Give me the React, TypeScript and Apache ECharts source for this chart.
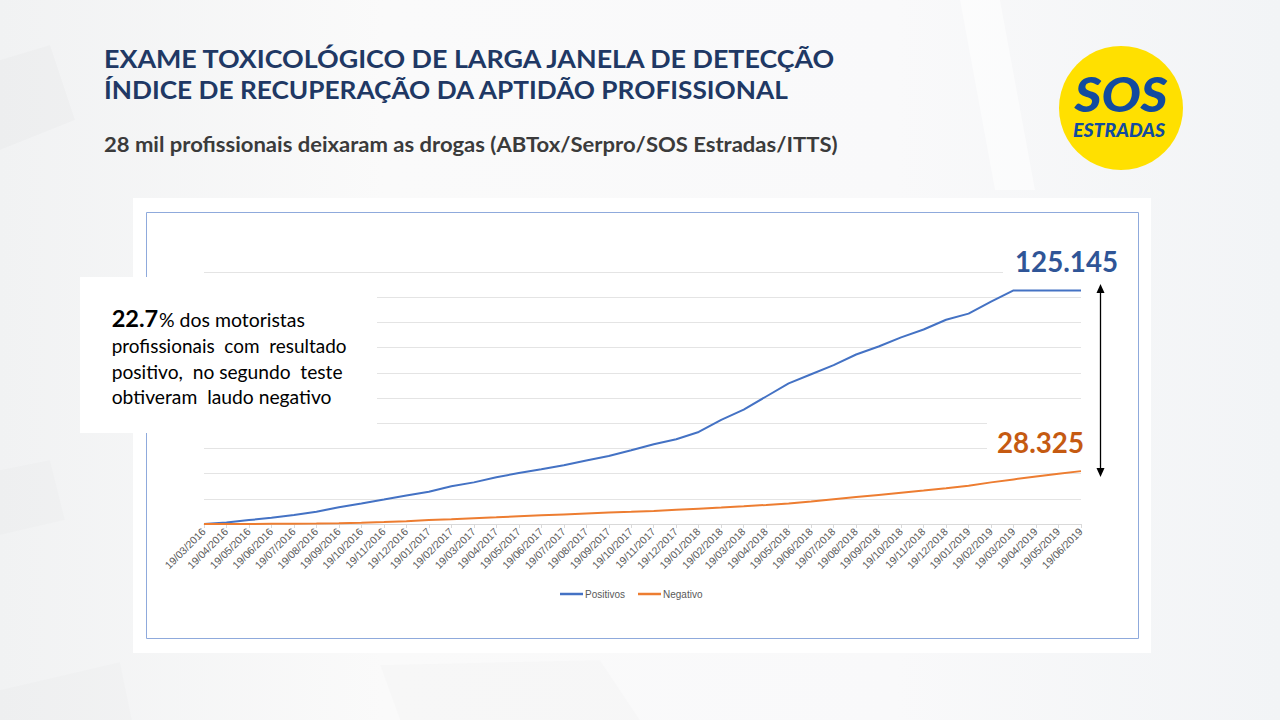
import React, { useEffect, useRef } from "react";
import * as echarts from "echarts";

// ---------- data ----------
const dates = [
  "19/03/2016", "19/04/2016", "19/05/2016", "19/06/2016", "19/07/2016", "19/08/2016",
  "19/09/2016", "19/10/2016", "19/11/2016", "19/12/2016", "19/01/2017", "19/02/2017",
  "19/03/2017", "19/04/2017", "19/05/2017", "19/06/2017", "19/07/2017", "19/08/2017",
  "19/09/2017", "19/10/2017", "19/11/2017", "19/12/2017", "19/01/2018", "19/02/2018",
  "19/03/2018", "19/04/2018", "19/05/2018", "19/06/2018", "19/07/2018", "19/08/2018",
  "19/09/2018", "19/10/2018", "19/11/2018", "19/12/2018", "19/01/2019", "19/02/2019",
  "19/03/2019", "19/04/2019", "19/05/2019", "19/06/2019",
];
const positivos = [
  0, 750, 2100, 3300, 4800, 6600, 9000, 11000, 13100, 15300, 17300, 20200, 22300, 25000,
  27300, 29300, 31500, 34000, 36400, 39500, 42700, 45400, 49300, 55800, 61300, 68300,
  75300, 80200, 85100, 90800, 95100, 100000, 104200, 109400, 112700, 119100, 125145,
  125145, 125145, 125145,
];
const negativos = [
  0, 0, 50, 100, 150, 250, 380, 700, 1050, 1450, 2150, 2550, 3050, 3550, 4100, 4650,
  5150, 5650, 6100, 6500, 7000, 7600, 8200, 8800, 9450, 10200, 11000, 12000, 13200,
  14400, 15600, 16800, 17900, 19100, 20500, 22300, 23900, 25400, 26900, 28325,
];
const seriesNames = ["Positivos", "Negativo"];
const yMax = 135000;
const yStep = 13500;
const titleLines = [
  "EXAME TOXICOLÓGICO DE LARGA JANELA DE DETECÇÃO",
  "ÍNDICE DE RECUPERAÇÃO DA APTIDÃO PROFISSIONAL",
];
const subtitle = "28 mil profissionais deixaram as drogas (ABTox/Serpro/SOS Estradas/ITTS)";
const notePct = "22.7";
const noteLines = [
  "% dos motoristas",
  "profissionais  com  resultado",
  "positivo,  no segundo  teste",
  "obtiveram  laudo negativo",
];
const finalPos = "125.145";
const finalNeg = "28.325";
const logoTop = "SOS";
const logoBottom = "ESTRADAS";

// ---------- helpers ----------
const FONT = "Lato";
let measureCtx: CanvasRenderingContext2D | null = null;
function measure(text: string, size: number, weight: string, family: string, italic = false) {
  if (!measureCtx) measureCtx = document.createElement("canvas").getContext("2d");
  if (!measureCtx) return text.length * size * 0.5;
  measureCtx.font = `${italic ? "italic " : ""}${weight} ${size}px "${family}"`;
  return measureCtx.measureText(text).width;
}
const CENTRAL = 0.387; // central baseline offset (em) for Lato

function fitText(o: {
  text: string; x: number; baseline: number; width: number; size: number;
  weight?: string; fill: string; align?: string; italic?: boolean; z?: number; family?: string;
}) {
  const weight = o.weight || "normal";
  const family = o.family || FONT;
  const w = measure(o.text, o.size, weight, family, !!o.italic);
  return {
    type: "text",
    x: o.x,
    y: o.baseline - CENTRAL * o.size,
    scaleX: o.width / w,
    z: o.z ?? 30,
    style: {
      text: o.text,
      fontSize: o.size,
      fontWeight: weight,
      fontFamily: family,
      fontStyle: o.italic ? "italic" : "normal",
      fill: o.fill,
      textAlign: o.align || "left",
      verticalAlign: "middle",
    },
  };
}

export default function App() {
  const ref = useRef<HTMLDivElement>(null);

  useEffect(() => {
    if (!ref.current) return;
    const chart = echarts.init(ref.current, null, { renderer: "svg" });

    const graphics: any[] = [
      // slide background
      {
        type: "rect", z: 0, shape: { x: 0, y: 0, width: 1280, height: 720 },
        style: {
          fill: new echarts.graphic.LinearGradient(0, 0, 1, 0, [
            { offset: 0, color: "#f1f2f3" },
            { offset: 0.3, color: "#fafafa" },
            { offset: 0.7, color: "#f9f9fa" },
            { offset: 1, color: "#f2f4f6" },
          ]),
        },
      },
      { type: "polygon", z: 0, shape: { points: [[0, 60], [50, 45], [75, 120], [0, 150]] }, style: { fill: "rgba(0,0,0,0.015)" } },
      { type: "polygon", z: 0, shape: { points: [[0, 470], [50, 460], [65, 520], [0, 535]] }, style: { fill: "rgba(0,0,0,0.012)" } },
      { type: "polygon", z: 0, shape: { points: [[0, 690], [120, 662], [132, 720], [0, 720]] }, style: { fill: "rgba(0,0,0,0.012)" } },
      { type: "polygon", z: 0, shape: { points: [[380, 665], [600, 660], [640, 720], [400, 720]] }, style: { fill: "rgba(0,0,0,0.01)" } },
      { type: "polygon", z: 0, shape: { points: [[960, 0], [1000, 0], [1035, 190], [995, 190]] }, style: { fill: "rgba(255,255,255,0.5)" } },
      // white panel behind chart
      { type: "rect", z: 1, shape: { x: 133, y: 198, width: 1018, height: 455 }, style: { fill: "#ffffff" } },
      // chart border
      {
        type: "rect", z: 2, shape: { x: 146.5, y: 212.5, width: 992, height: 426 },
        style: { fill: "none", stroke: "#8faadc", lineWidth: 1 },
      },
      // annotation box and label boxes (cover gridlines)
      { type: "rect", z: 20, shape: { x: 80, y: 277, width: 297, height: 156 }, style: { fill: "#ffffff" } },
      { type: "rect", z: 20, shape: { x: 1003, y: 243, width: 128, height: 38 }, style: { fill: "#ffffff" } },
      { type: "rect", z: 20, shape: { x: 987, y: 416, width: 108, height: 41 }, style: { fill: "#ffffff" } },
      // titles
      fitText({ text: titleLines[0], x: 104, baseline: 67.7, width: 734, size: 25.5, weight: "bold", fill: "#203864" }),
      fitText({ text: titleLines[1], x: 104, baseline: 99.3, width: 686, size: 25.5, weight: "bold", fill: "#203864" }),
      fitText({ text: subtitle, x: 104, baseline: 152.5, width: 734, size: 21.5, weight: "bold", fill: "#3b3b3b" }),
      // logo
      { type: "circle", z: 25, shape: { cx: 1121, cy: 108, r: 62 }, style: { fill: "#ffe000" } },
      fitText({ text: logoTop, x: 1121, baseline: 112, width: 93, size: 48, weight: "900", italic: true, fill: "#124b9f", align: "center" }),
      fitText({ text: logoBottom, x: 1119, baseline: 137, width: 92, size: 19.5, weight: "900", italic: true, fill: "#124b9f", align: "center" }),
      // annotation text
      fitText({ text: notePct, x: 111.7, baseline: 327, width: 46.6, size: 23, weight: "bold", fill: "#000000" }),
      fitText({ text: noteLines[0], x: 159, baseline: 327, width: 146, size: 19.5, fill: "#000000" }),
      fitText({ text: noteLines[1], x: 111.7, baseline: 353, width: 235, size: 19.5, fill: "#000000" }),
      fitText({ text: noteLines[2], x: 111.7, baseline: 379, width: 231, size: 19.5, fill: "#000000" }),
      fitText({ text: noteLines[3], x: 111.7, baseline: 404.5, width: 220, size: 19.5, fill: "#000000" }),
      // final values
      fitText({ text: finalPos, x: 1015, baseline: 272, width: 103, size: 28, weight: "bold", fill: "#2f5597" }),
      fitText({ text: finalNeg, x: 997, baseline: 453, width: 87, size: 28, weight: "bold", fill: "#c55a11" }),
      // double arrow
      { type: "line", z: 30, shape: { x1: 1100.5, y1: 290, x2: 1100.5, y2: 471 }, style: { stroke: "#000000", lineWidth: 1.3 } },
      { type: "polygon", z: 30, shape: { points: [[1100.5, 284], [1096.5, 293], [1104.5, 293]] }, style: { fill: "#000000" } },
      { type: "polygon", z: 30, shape: { points: [[1100.5, 477], [1096.5, 468], [1104.5, 468]] }, style: { fill: "#000000" } },
    ];

    chart.setOption({
      animation: false,
      backgroundColor: "transparent",
      grid: { left: 204, right: 199, top: 272, bottom: 196, containLabel: false },
      legend: {
        data: seriesNames,
        left: 560,
        top: 589,
        padding: 0,
        icon: "rect",
        itemWidth: 23,
        itemHeight: 2.5,
        itemGap: 13,
        z: 10,
        textStyle: { fontSize: 10, color: "#595959", fontFamily: "Liberation Sans", padding: [0, 0, 0, -3] },
      },
      xAxis: {
        type: "category",
        data: dates,
        boundaryGap: false,
        z: 5,
        axisLine: { show: true, lineStyle: { color: "#d9d9d9", width: 1 } },
        axisTick: { show: true, interval: 0, length: 4, lineStyle: { color: "#d9d9d9" } },
        axisLabel: {
          interval: 0,
          rotate: 45,
          fontSize: 10.5,
          color: "#595959",
          fontFamily: "Liberation Sans",
          margin: 6,
        },
        splitLine: { show: false },
      },
      yAxis: {
        type: "value",
        min: 0,
        max: yMax,
        interval: yStep,
        z: 5,
        axisLine: { show: false },
        axisTick: { show: false },
        axisLabel: { show: false },
        splitLine: { show: true, lineStyle: { color: "#e4e4e4", width: 1 } },
      },
      series: [
        {
          name: seriesNames[0],
          type: "line",
          data: positivos,
          showSymbol: false,
          z: 6,
          color: "#4472c4",
          lineStyle: { width: 2, color: "#4472c4" },
        },
        {
          name: seriesNames[1],
          type: "line",
          data: negativos,
          showSymbol: false,
          z: 6,
          color: "#ed7d31",
          lineStyle: { width: 2, color: "#ed7d31" },
        },
      ],
      graphic: { elements: graphics },
    });

    return () => chart.dispose();
  }, []);

  return (
    <div
      ref={ref}
      style={{ position: "absolute", left: 0, top: 0, width: 1280, height: 720 }}
    />
  );
}
